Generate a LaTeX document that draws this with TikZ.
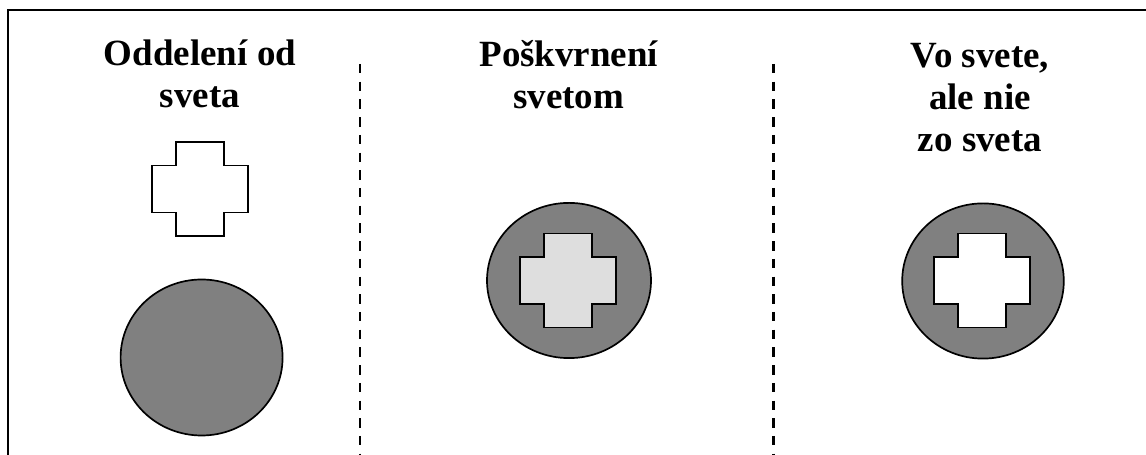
\documentclass[tikz,border=0pt]{standalone}
\usepackage{fontspec}
\setmainfont{Liberation Serif}
\usepackage{xcolor}
\usepackage{tikz}
\usetikzlibrary{calc, positioning}
\tikzset{
    title/.style={font=\fontsize{26.3}{30}\selectfont\bfseries, align=center, inner sep=0pt, anchor=base},
    frame/.style={draw=black, line width=1.8pt},
    divider/.style={draw=black, line width=1.2pt, dash pattern=on 6.7pt off 5.9pt},
    dividerThick/.style={draw=black, line width=2.6pt, dash pattern=on 6.7pt off 5.9pt},
    world/.style={draw=black, line width=1.2pt, fill=black!50},
    pure/.style={draw=black, line width=1.2pt, fill=white},
    stained/.style={draw=black, line width=1.2pt, fill=black!13}
}
\newcommand{\crossAt}[2]{%
    \draw[#1] (#2) ++(-0.6, 1.175) -- ++(1.2, 0) -- ++(0, -0.5875) -- ++(0.6, 0)
        -- ++(0, -1.175) -- ++(-0.6, 0) -- ++(0, -0.5875) -- ++(-1.2, 0)
        -- ++(0, 0.5875) -- ++(-0.6, 0) -- ++(0, 1.175) -- ++(0.6, 0) -- cycle;
}

\begin{document}
\begin{tikzpicture}[scale=1]
    \useasboundingbox (0, 0) rectangle (28.65, 11.375);

    % Frame (top and left only)
    \draw[frame] (28.7, 11.125) -- (0.2, 11.125) -- (0.2, -0.05);

    % Column dividers
    \draw[divider] (9.0, 9.775) -- (9.0, 0);
    \draw[dividerThick] (19.34, 9.775) -- (19.34, 0);

    % Titles
    \node[title] (tSeparate) at (5.0, 8.675) {Oddelení od\\sveta};
    \node[title] (tStained) at (14.22, 8.65) {Poškvrnení\\svetom};
    \node[title] (tInWorld) at (24.5, 7.575) {Vo svete,\\ale nie\\zo sveta};

    % Centres
    \coordinate (C1) at (5.0, 6.65);
    \coordinate (W1) at (5.04, 2.4375);
    \coordinate (W2) at (14.225, 4.3625);
    \coordinate (C2) at (14.2, 4.3625);
    \coordinate (W3) at (24.575, 4.35);
    \coordinate (C3) at (24.55, 4.3625);

    % Separation: cross apart from the world
    \crossAt{pure}{C1}
    \draw[world] (W1) ellipse (2.025 and 1.95);

    % Stained by the world
    \draw[world] (W2) ellipse (2.05 and 1.94);
    \crossAt{stained}{C2}

    % In the world, not of it
    \draw[world] (W3) ellipse (2.02 and 1.94);
    \crossAt{pure}{C3}

\end{tikzpicture}
\end{document}
